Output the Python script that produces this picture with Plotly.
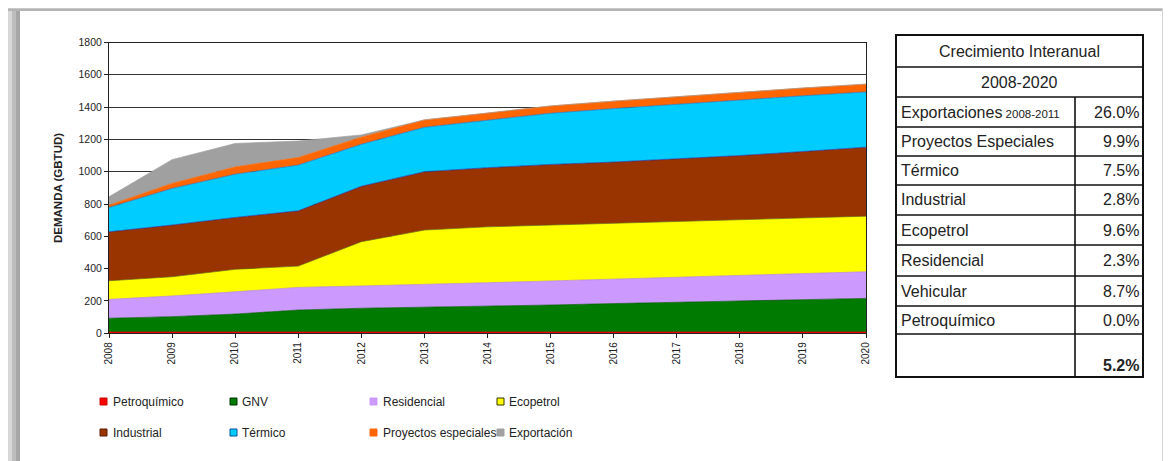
import plotly.graph_objects as go

# ---------------- data ----------------
years = [2008, 2009, 2010, 2011, 2012, 2013, 2014, 2015, 2016, 2017, 2018, 2019, 2020]
petroquimico = [8, 8, 8, 8, 8, 8, 8, 8, 8, 8, 8, 8, 8]
gnv = [85, 95, 111, 136, 147, 153, 158, 167, 176, 185, 192, 200, 208]
residencial = [117, 128, 138, 140, 138, 144, 147, 149, 152, 154, 158, 162, 165]
ecopetrol = [115, 119, 139, 132, 274, 334, 346, 346, 344, 343, 344, 343, 344]
industrial = [303, 320, 321, 342, 343, 361, 366, 375, 380, 390, 398, 412, 427]
termico = [151, 227, 268, 283, 260, 275, 294, 317, 331, 338, 345, 345, 342]
proyectos = [14, 31, 45, 47, 44, 46, 44, 45, 46, 47, 47, 48, 48]
exportacion = [52, 147, 145, 102, 14, 0, 0, 0, 0, 0, 0, 0, 0]

series_names = ["Petroquímico", "GNV", "Residencial", "Ecopetrol",
                "Industrial", "Térmico", "Proyectos especiales", "Exportación"]
series_values = [petroquimico, gnv, residencial, ecopetrol,
                 industrial, termico, proyectos, exportacion]
series_colors = ["#FF0000", "#007A00", "#CC99FF", "#FFFF00",
                 "#993300", "#00CCFF", "#FF6600", "#A0A0A0"]
series_lines = ["#CC0000", "#005A00", "#B080E0", "#6B6B00",
                "#2A2A90", "#2070C0", "#FF6600", "#A0A0A0"]
legend_border = ["#CC0000", "#003300", "#CC99FF", "#333300",
                 "#5A1E00", "#0050A0", "#FF6600", "#A0A0A0"]

y_ticks = [0, 200, 400, 600, 800, 1000, 1200, 1400, 1600, 1800]
y_title = "DEMANDA (GBTUD)"

table_title = ["Crecimiento Interanual", "2008-2020"]
table_labels = ["Exportaciones", "Proyectos Especiales", "Térmico", "Industrial",
                "Ecopetrol", "Residencial", "Vehicular", "Petroquímico", ""]
table_label_suffix = [" 2008-2011", "", "", "", "", "", "", "", ""]
table_values = ["26.0%", "9.9%", "7.5%", "2.8%", "9.6%", "2.3%", "8.7%", "0.0%", "5.2%"]

# ---------------- geometry helpers (screen pixel -> paper) ----------------
W, H = 1171, 461
OFF = 8  # page margin in which the figure div sits

def px(x):
    return (x - OFF) / W

def py(y):
    return 1 - (y - OFF) / H

fig = go.Figure()
for name, vals, col, lc in zip(series_names, series_values, series_colors, series_lines):
    fig.add_trace(go.Scatter(
        x=years, y=vals, name=name, mode="lines", stackgroup="one",
        fillcolor=col, line=dict(color=lc, width=0.7), showlegend=False,
        hoverinfo="x+y+name"))

shapes = []
annotations = []

def rect(x0, y0, x1, y1, fill, line_color=None, lw=0, layer="below"):
    return dict(type="rect", xref="paper", yref="paper",
                x0=px(x0), x1=px(x1), y0=py(y1), y1=py(y0),
                fillcolor=fill, layer=layer,
                line=dict(width=lw, color=line_color or fill))

# card shadow
shadow_left = [(0, 7, "#ececec"), (7, 12, "#d8d8d8"), (12, 16, "#bdbdbd"), (16, 20, "#a6a6a6")]
for a, b, c in shadow_left:
    shapes.append(rect(a, 0, b, H + OFF, c))
shadow_top = [(0, 4, "#f2f2f2"), (4, 7, "#e0e0e0"), (7, 9, "#c8c8c8"), (9, 11, "#b4b4b4")]
for a, b, c in shadow_top:
    shapes.append(rect(0, a, W + OFF, b, c))
shadow_right = [(1162, 1164, "#d4d4d4"), (1164, 1180, "#ababab")]
for a, b, c in shadow_right:
    shapes.append(rect(a, 0, b, H + OFF, c))

# legend (2 rows x 4 columns)
leg_marker_x = [100, 230, 370, 497]
leg_text_x = [111, 240, 381, 507]
leg_rows_y = [401.5, 432.5]
for i, (name, col, bc) in enumerate(zip(series_names, series_colors, legend_border)):
    r, c = divmod(i, 4)
    cy = leg_rows_y[r]
    mx = leg_marker_x[c]
    shapes.append(rect(mx, cy - 3.5, mx + 7, cy + 3.5, col, bc, 1, layer="above"))
    annotations.append(dict(x=px(leg_text_x[c]), y=py(cy), xref="paper", yref="paper",
                            text=name, showarrow=False, xanchor="left", yanchor="middle",
                            font=dict(family="Liberation Sans, Arial", size=12, color="#222")))

# y-axis title
annotations.append(dict(x=px(58), y=py(188), xref="paper", yref="paper", text="<b>" + y_title + "</b>",
                        showarrow=False, textangle=-90, xanchor="center", yanchor="middle",
                        font=dict(family="Liberation Sans, Arial", size=11.5, color="#222")))

# table
tx0, tx1, tcol = 896, 1143, 1075
row_edges = [35, 67, 97, 127, 156, 185, 215, 245, 276, 306, 334, 377]
tfont = "Liberation Sans, Arial"
shapes.append(rect(tx0, row_edges[0], tx1, row_edges[-1], "rgba(0,0,0,0)", "#111", 2, layer="above"))
for ye in row_edges[1:-1]:
    shapes.append(dict(type="line", xref="paper", yref="paper", x0=px(tx0), x1=px(tx1),
                       y0=py(ye), y1=py(ye), line=dict(color="#111", width=1.6)))
shapes.append(dict(type="line", xref="paper", yref="paper", x0=px(tcol), x1=px(tcol),
                   y0=py(row_edges[2]), y1=py(row_edges[-1]), line=dict(color="#111", width=1.6)))
for i, t in enumerate(table_title):
    cy = (row_edges[i] + row_edges[i + 1]) / 2
    annotations.append(dict(x=px((tx0 + tx1) / 2), y=py(cy), xref="paper", yref="paper", text=t,
                            showarrow=False, xanchor="center", yanchor="middle",
                            font=dict(family=tfont, size=16, color="#222")))
for i, (lab, suf, val) in enumerate(zip(table_labels, table_label_suffix, table_values)):
    y0, y1 = row_edges[i + 2], row_edges[i + 3]
    cy = (y0 + y1) / 2
    last = (i == len(table_labels) - 1)
    if lab:
        txt = lab + (f"<span style='font-size:11.5px'>{suf}</span>" if suf else "")
        annotations.append(dict(x=px(899), y=py(cy), xref="paper", yref="paper", text=txt,
                                showarrow=False, xanchor="left", yanchor="middle",
                                font=dict(family=tfont, size=16, color="#222")))
    vy = y1 - 12 if last else cy
    annotations.append(dict(x=px(1141), y=py(vy), xref="paper", yref="paper",
                            text=("<b>" + val + "</b>") if last else val,
                            showarrow=False, xanchor="right", yanchor="middle",
                            font=dict(family=tfont, size=16, color="#222")))

fig.update_layout(
    width=W, height=H, margin=dict(l=0, r=0, t=0, b=0, autoexpand=False),
    paper_bgcolor="white", plot_bgcolor="white",
    shapes=shapes, annotations=annotations, showlegend=False,
    xaxis=dict(domain=[px(109), px(866)], range=[2008, 2020], tickmode="array",
               tickvals=years, ticktext=[str(y) for y in years], tickangle=-90,
               ticks="outside", ticklen=4, tickcolor="#222", showgrid=False,
               showline=True, linecolor="#222", linewidth=1, mirror=True,
               tickfont=dict(family="Liberation Sans, Arial", size=10, color="#222"),
               zeroline=False, fixedrange=True, automargin=False),
    yaxis=dict(domain=[py(333.3), py(42.5)], range=[0, 1800], tickmode="array",
               tickvals=y_ticks, ticks="outside", ticklen=4, tickcolor="#222",
               showgrid=True, gridcolor="#333", gridwidth=1,
               showline=True, linecolor="#222", linewidth=1, mirror=True,
               tickfont=dict(family="Liberation Sans, Arial", size=10.5, color="#222"),
               zeroline=False, fixedrange=True, automargin=False),
)

fig.write_html("out.html")
